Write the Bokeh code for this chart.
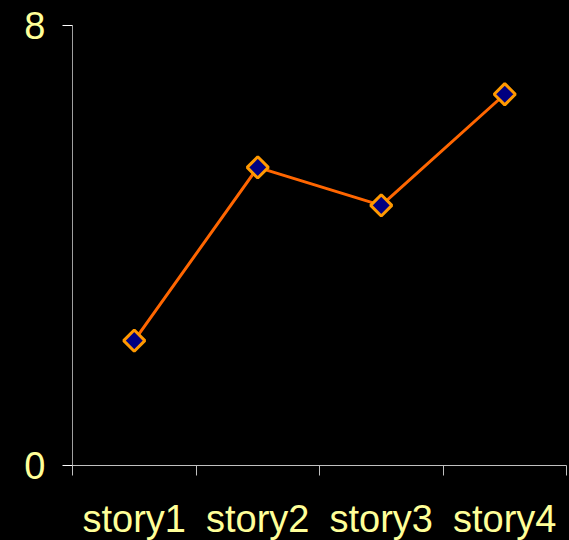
from bokeh.plotting import figure
from bokeh.models import Range1d, LinearAxis, FixedTicker
from bokeh.embed import file_html
from bokeh.resources import INLINE

categories = ["story1", "story2", "story3", "story4"]
values = [2.27, 5.42, 4.73, 6.75]
y_ticks = [0, 8]

LABEL = "#FFFF99"
FONT = "Liberation Sans"

# category slots: each category occupies one unit, centred at i + 0.5
x_pos = [i + 0.5 for i in range(len(categories))]
bounds = list(range(len(categories) + 1))

p = figure(x_range=Range1d(0, len(categories)),
           y_range=Range1d(0, 8),
           frame_width=494, frame_height=440,
           min_border_left=72, min_border_right=3, min_border_top=25, min_border_bottom=75,
           output_backend="svg", toolbar_location=None, x_axis_location=None,
           outline_line_color=None)
p.background_fill_color = "black"
p.border_fill_color = "black"
p.styles = {"background-color": "black"}
p.grid.visible = False

# y axis
p.yaxis.ticker = FixedTicker(ticks=y_ticks)
p.yaxis.minor_tick_line_color = None
p.yaxis.major_tick_in = 0
p.yaxis.major_tick_out = 10
p.yaxis.major_tick_line_color = "white"
p.yaxis.axis_line_color = "#A0A0A0"
p.yaxis.major_label_text_color = LABEL
p.yaxis.major_label_text_font = FONT
p.yaxis.major_label_text_font_size = "38px"
p.yaxis.major_label_standoff = 17

# x axis: labels at category centres, ticks at category boundaries
x_axis = LinearAxis(ticker=FixedTicker(ticks=x_pos, minor_ticks=bounds),
                    major_label_overrides={x: c for x, c in zip(x_pos, categories)},
                    axis_line_color="#C0C0C0",
                    major_tick_line_color=None, major_tick_in=0, major_tick_out=0,
                    minor_tick_line_color="#C0C0C0", minor_tick_in=0, minor_tick_out=10,
                    major_label_text_color=LABEL, major_label_text_font=FONT,
                    major_label_text_font_size="38px", major_label_standoff=22)
p.add_layout(x_axis, "below")

p.line(x_pos, values, line_color="#FF6600", line_width=3)
p.scatter(x_pos, values, marker="square", angle=0.785398, size=15,
          fill_color="#000080", line_color="#FF9900", line_width=3)

open("out.html", "w").write(file_html(p, INLINE))
